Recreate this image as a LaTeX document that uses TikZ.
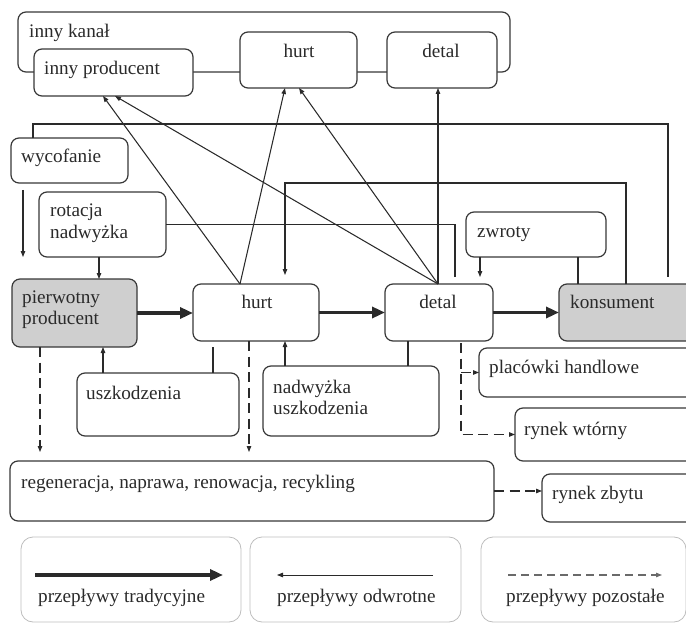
\documentclass[tikz,border=0pt]{standalone}
\usepackage{fontspec}
\setmainfont{Liberation Serif}
\usetikzlibrary{arrows.meta}
\definecolor{ink}{HTML}{2A2A2A}
\definecolor{boxc}{HTML}{383838}
\definecolor{grayfill}{HTML}{CFCFCF}
\definecolor{legc}{HTML}{BDBDBD}
\definecolor{dashc}{HTML}{6A6A6A}
\begin{document}
\begin{tikzpicture}[x=1pt,y=-1pt,
 box/.style={draw=boxc, line width=1.2pt, rounded corners=8pt, fill=white, inner sep=0pt, outer sep=0pt, anchor=north west},
 legbox/.style={draw=legc, line width=0.8pt, rounded corners=12pt, inner sep=0pt, outer sep=0pt, anchor=north west},
 txt/.style={anchor=base west, inner sep=0pt, font=\fontsize{19.2}{21}\selectfont, text=ink},
 ctxt/.style={anchor=base, inner sep=0pt, font=\fontsize{19.2}{21}\selectfont, text=ink},
 line/.style={draw=ink, line width=1.05pt},
 rev/.style={line, -{Triangle[length=6pt,width=4.5pt]}},
 oth/.style={line, dash pattern=on 10pt off 5.5pt, -{Triangle[length=6pt,width=4.5pt]}},
 trad/.style={draw=ink, line width=3.4pt, -{Triangle[length=13pt,width=11pt]}},
]
\useasboundingbox (0,0) rectangle (686,623);

% boxes
\node[box, fill=none, minimum width=492pt, minimum height=60pt] (chan) at (18,12) {};
\node[box, minimum width=159pt, minimum height=47pt] (innyprod) at (34,49) {};
\node[box, minimum width=117pt, minimum height=56pt] (hurtT) at (240,32) {};
\node[box, minimum width=110pt, minimum height=56pt] (detalT) at (387,32) {};
\node[box, minimum width=117pt, minimum height=45pt] (wyc) at (11,138) {};
\node[box, minimum width=127pt, minimum height=65pt] (rot) at (39,192) {};
\node[box, fill=grayfill, minimum width=125pt, minimum height=68pt] (pierw) at (12,279) {};
\node[box, minimum width=126pt, minimum height=57pt] (hurt) at (193,284) {};
\node[box, minimum width=108pt, minimum height=57pt] (detal) at (385,284) {};
\node[box, fill=grayfill, minimum width=141pt, minimum height=57pt] (kons) at (559,284) {};
\node[box, minimum width=140pt, minimum height=45pt] (zwr) at (466,212) {};
\node[box, minimum width=162pt, minimum height=63pt] (uszk) at (77,373) {};
\node[box, minimum width=176pt, minimum height=70pt] (nadw) at (263,366) {};
\node[box, minimum width=221pt, minimum height=49pt] (plac) at (479,348) {};
\node[box, minimum width=185pt, minimum height=53pt] (rwt) at (515,408) {};
\node[box, minimum width=484pt, minimum height=60pt] (regen) at (10,461) {};
\node[box, minimum width=158pt, minimum height=48pt] (rzb) at (542,474) {};
\node[legbox, minimum width=220pt, minimum height=85pt] (leg1) at (21,537) {};
\node[legbox, minimum width=211pt, minimum height=85pt] (leg2) at (250,537) {};
\node[legbox, minimum width=205pt, minimum height=85pt] (leg3) at (481,537) {};

% texts
\node[txt] (t-chan) at (29,38) {inny kanał};
\node[txt] (t-innyprod) at (44,75) {inny producent};
\node[ctxt] (t-hurtT) at (299,58) {hurt};
\node[ctxt] (t-detalT) at (441,58) {detal};
\node[txt] (t-wyc) at (21,163) {wycofanie};
\node[txt] (t-rot1) at (50,217) {rotacja};
\node[txt] (t-rot2) at (50,238) {nadwyżka};
\node[txt] (t-pierw1) at (22,303) {pierwotny};
\node[txt] (t-pierw2) at (22,324) {producent};
\node[ctxt] (t-hurt) at (257,308) {hurt};
\node[ctxt] (t-detal) at (438,308) {detal};
\node[txt] (t-kons) at (570,308) {konsument};
\node[txt] (t-zwr) at (477,237) {zwroty};
\node[txt] (t-uszk) at (86,399) {uszkodzenia};
\node[txt] (t-nadw1) at (273,393) {nadwyżka};
\node[txt] (t-nadw2) at (273,414) {uszkodzenia};
\node[txt] (t-plac) at (489,373) {placówki handlowe};
\node[txt] (t-rwt) at (524,435) {rynek wtórny};
\node[txt] (t-rzb) at (552,499) {rynek zbytu};
\node[txt] (t-regen) at (21,488) {regeneracja, naprawa, renowacja, recykling};
\node[txt] (t-leg1) at (38,602) {przepływy tradycyjne};
\node[txt] (t-leg2) at (277,602) {przepływy odwrotne};
\node[txt] (t-leg3) at (506,602) {przepływy pozostałe};

% attachment points
\coordinate (hA) at ([xshift=47pt]hurt.north west);
\coordinate (dA) at ([xshift=53pt]detal.north west);
\coordinate (ipA) at ([xshift=69pt]innyprod.south west);
\coordinate (ipB) at ([xshift=81pt]innyprod.south west);
\coordinate (htA) at ([xshift=45pt]hurtT.south west);
\coordinate (htB) at ([xshift=59pt]hurtT.south west);
\coordinate (wA) at ([xshift=22pt]wyc.north west);
\coordinate (wB) at ([xshift=12pt,yshift=-7pt]wyc.south west);
\coordinate (kA) at ([xshift=109pt,yshift=7pt]kons.north west);
\coordinate (kB) at ([xshift=67pt]kons.north west);
\coordinate (kC) at ([xshift=19pt]kons.north west);
\coordinate (hB) at ([xshift=92pt,yshift=9pt]hurt.north west);
\coordinate (zA) at ([xshift=14pt]zwr.south west);
\coordinate (dC) at ([xshift=70pt,yshift=7pt]detal.north west);
\coordinate (rA) at ([xshift=60pt]rot.south west);
\coordinate (hD) at ([xshift=20pt,yshift=-6pt]hurt.south west);
\coordinate (uA) at ([xshift=26pt]uszk.north west);
\coordinate (dD) at ([xshift=23pt]detal.south west);
\coordinate (nA) at ([xshift=22pt]nadw.north west);
\coordinate (pD) at ([xshift=28pt]pierw.south west);
\coordinate (hE) at ([xshift=56pt]hurt.south west);
\coordinate (dE) at ([xshift=76pt,yshift=-2pt]detal.south west);

% traditional flows
\draw[trad] (pierw.east) -- (pierw.east -| hurt.west);
\draw[trad] (hurt.east) -- (detal.west);
\draw[trad] (detal.east) -- (kons.west);

% reverse flows
\draw[rev] (hA) -- (ipA);
\draw[rev] (hA) -- (htA);
\draw[rev] (dA) -- (ipB);
\draw[rev] (dA) -- (htB);
\draw[rev] (dA) -- (dA |- detalT.south);
\draw[line] (wA) -- ++(0,-14) -| (kA);
\draw[rev] (wB) -- ++(0,67);
\draw[rev] (kB) -- ++(0,-101) -| (hB);
\draw[line] (kC) -- (kC |- zwr.south);
\draw[rev] (zA) -- ++(0,20);
\draw[line] (dC) |- (rot.east);
\draw[rev] (rA) -- (rA |- pierw.north);
\draw[line] (hD) -- (hD |- uszk.north);
\draw[rev] (uA) -- (uA |- pierw.south);
\draw[line] (dD) -- (dD |- nadw.north);
\draw[rev] (nA) -- (nA |- hurt.south);

% other flows
\draw[oth] (pD) -- ++(0,105);
\draw[oth] (hE) -- ++(0,111);
\draw[oth] (dE) |- (rwt.west);
\draw[oth] (dE |- plac.west) -- (plac.west);
\draw[oth] (regen.east) -- (regen.east -| rzb.west);

% legend
\coordinate (lg1a) at (35,575);
\coordinate (lg1b) at (223,575);
\coordinate (lg2a) at (433,575);
\coordinate (lg2b) at (277,575);
\coordinate (lg3a) at (508,575);
\coordinate (lg3b) at (662,575);
\draw[trad] (lg1a) -- (lg1b);
\draw[rev, line width=0.8pt] (lg2a) -- (lg2b);
\draw[oth, draw=dashc, dash pattern=on 8pt off 5pt] (lg3a) -- (lg3b);
\end{tikzpicture}
\end{document}
